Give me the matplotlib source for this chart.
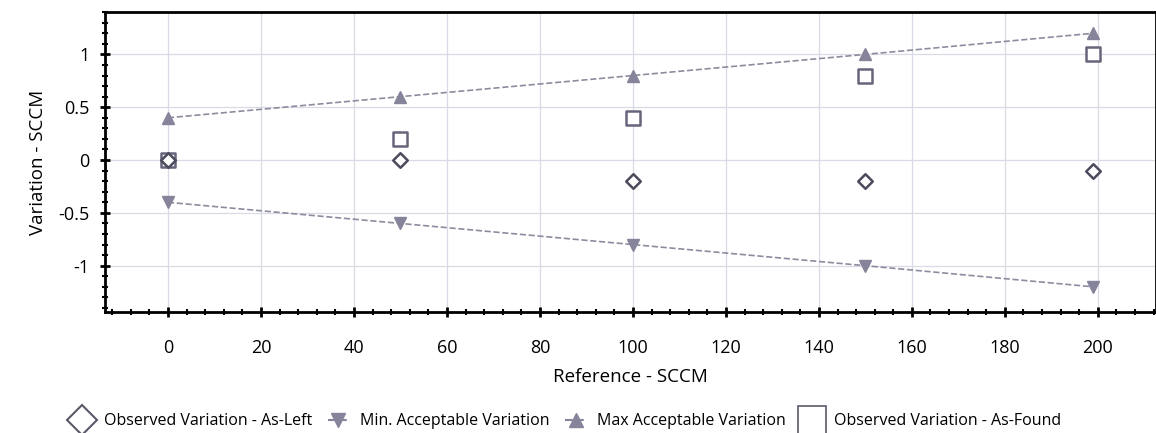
import matplotlib
matplotlib.use('Agg')
import matplotlib.pyplot as plt
from matplotlib.ticker import MultipleLocator
from matplotlib.lines import Line2D

plt.rcParams['font.family'] = ['Open Sans', 'DejaVu Sans']

# ── Data ────────────────────────────────────────────────────────────────────
reference = [0, 50, 100, 150, 199]
as_left = [0, 0, -0.2, -0.2, -0.1]
as_found = [0, 0.2, 0.4, 0.8, 1.0]
min_accept = [-0.4, -0.6, -0.8, -1.0, -1.2]
max_accept = [0.4, 0.6, 0.8, 1.0, 1.2]

x_ticks = [0, 20, 40, 60, 80, 100, 120, 140, 160, 180, 200]
y_ticks = [-1, -0.5, 0, 0.5, 1]
y_ticklabels = ['-1', '-0.5', '0', '0.5', '1']

# ── Figure ──────────────────────────────────────────────────────────────────
fig = plt.figure(figsize=(11.56, 4.33), dpi=100)
ax = fig.add_axes([0.091, 0.279, 0.909, 0.693])

tri_col = '#85849a'
ax.plot(reference, max_accept, linestyle='--', color='#8c8ca0', linewidth=1.2,
        marker='^', markersize=9, markerfacecolor=tri_col, markeredgecolor=tri_col,
        zorder=3)
ax.plot(reference, min_accept, linestyle='--', color='#8c8ca0', linewidth=1.2,
        marker='v', markersize=9, markerfacecolor=tri_col, markeredgecolor=tri_col,
        zorder=3)
ax.scatter(reference, as_found, marker='s', s=110, facecolor='white',
           edgecolor='#66657c', linewidth=1.8, zorder=4)
ax.scatter(reference, as_left, marker='D', s=55, facecolor='white',
           edgecolor='#4c4b5c', linewidth=1.8, zorder=5)

ax.set_xlim(-13.5, 212.5)
ax.set_ylim(-1.44, 1.40)
ax.set_xticks(x_ticks)
ax.set_yticks(y_ticks)
ax.set_yticklabels(y_ticklabels)
ax.xaxis.set_minor_locator(MultipleLocator(4))
ax.yaxis.set_minor_locator(MultipleLocator(0.1))

ax.grid(True, which='major', color='#d8dbe6', linewidth=0.9)
ax.set_axisbelow(True)
for s in ax.spines.values():
    s.set_linewidth(2)
    s.set_color('black')

ax.tick_params(axis='both', which='major', length=7, width=2, labelsize=13,
               direction='inout', color='black')
ax.tick_params(axis='both', which='minor', length=4, width=1.5,
               direction='inout', color='black')
ax.tick_params(axis='x', pad=16)
ax.tick_params(axis='y', pad=8)

ax.set_xlabel('Reference - SCCM', fontsize=13.5, labelpad=8)
ax.set_ylabel('Variation - SCCM', fontsize=13.5, labelpad=8)

handles = [
    Line2D([], [], linestyle='none', marker='D', markersize=15,
           markerfacecolor='white', markeredgecolor='#5a596a', markeredgewidth=1.5),
    Line2D([], [], linestyle='--', color=tri_col, marker='v', markersize=10,
           markerfacecolor=tri_col, markeredgecolor=tri_col),
    Line2D([], [], linestyle='--', color=tri_col, marker='^', markersize=10,
           markerfacecolor=tri_col, markeredgecolor=tri_col),
    Line2D([], [], linestyle='none', marker='s', markersize=20,
           markerfacecolor='white', markeredgecolor='#5a596a', markeredgewidth=1.2),
]
labels = ['Observed Variation - As-Left', 'Min. Acceptable Variation',
          'Max Acceptable Variation', 'Observed Variation - As-Found']
fig.legend(handles, labels, loc='lower center', bbox_to_anchor=(0.49, -0.025),
           ncol=4, frameon=False, fontsize=11.5, handlelength=1.3,
           handletextpad=0.7, columnspacing=1.0)

plt.savefig('out.png', dpi=100)
